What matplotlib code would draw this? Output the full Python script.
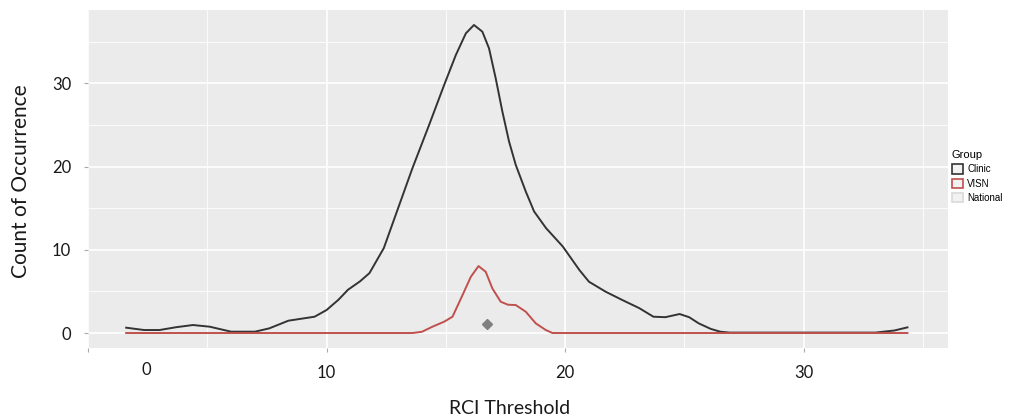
import matplotlib
matplotlib.use('Agg')
import matplotlib.pyplot as plt
from matplotlib.patches import Patch

plt.rcParams['font.family'] = ['Lato', 'DejaVu Sans']

# Clinic curve
clinic_x = [1.6, 2.35, 3.0, 3.7, 4.4, 5.1, 6.0, 7.0, 7.6, 8.4, 9.5, 10.0, 10.5, 10.9, 11.4,
            11.8, 12.4, 12.9, 13.6, 14.3, 14.93, 15.42, 15.84, 16.18, 16.53, 16.81,
            17.09, 17.37, 17.65, 17.93, 18.35, 18.7, 19.2, 19.9, 20.6, 21.0, 21.7,
            22.4, 23.1, 23.7, 24.2, 24.8, 25.2, 25.6, 26.1, 26.5, 26.9, 33.0,
            33.8, 34.35]
clinic_y = [0.64, 0.36, 0.36, 0.7, 0.96, 0.76, 0.16, 0.16, 0.56, 1.48, 1.96, 2.76, 4.0, 5.2, 6.2,
            7.2, 10.2, 14.2, 19.8, 25.0, 29.8, 33.4, 36.0, 37.0, 36.2, 34.2,
            30.6, 26.6, 23.0, 20.2, 17.0, 14.6, 12.6, 10.4, 7.56, 6.16, 4.96,
            3.96, 3.0, 1.96, 1.9, 2.28, 1.9, 1.16, 0.5, 0.16, 0.05, 0.05,
            0.3, 0.68]

# VISN curve
visn_x = [1.6, 13.6, 14.0, 14.44, 14.93, 15.28, 15.7, 16.05, 16.37, 16.67, 16.95,
          17.3, 17.6, 17.93, 18.35, 18.77, 19.19, 19.47, 34.35]
visn_y = [0.0, 0.0, 0.15, 0.76, 1.36, 1.96, 4.56, 6.76, 8.04, 7.36, 5.36,
          3.76, 3.4, 3.36, 2.56, 1.16, 0.36, 0.0, 0.0]

# National marker
nat_x = [16.74]
nat_y = [1.04]

groups = ['Clinic', 'VISN', 'National']
edge_colors = ['#333333', '#c0504d', '#d9d9d9']

fig = plt.figure(figsize=(10.21, 4.17), dpi=100)
ax = fig.add_axes([88 / 1021, 1 - 348 / 417, 860 / 1021, 338 / 417])
ax.set_facecolor('#ebebeb')
for s in ax.spines.values():
    s.set_visible(False)

ax.set_xlim(0, 36.05)
ax.set_ylim(-1.8, 38.8)
ax.set_xticks([0, 10, 20, 30])
ax.set_xticks([5, 15, 25, 35], minor=True)
ax.set_yticks([0, 10, 20, 30])
ax.set_yticks([5, 15, 25, 35], minor=True)
ax.grid(True, which='major', color='white', lw=1.2)
ax.grid(True, which='minor', color='white', lw=0.6)
ax.set_axisbelow(True)
ax.tick_params(which='major', length=3, color='#aaaaaa', labelsize=12, labelcolor='#1a1a1a')
ax.tick_params(axis='x', pad=9)
ax.tick_params(axis='y', pad=9)
ax.tick_params(which='minor', length=0)
ax.set_xticklabels(['', '10', '20', '30'])
ax.text(2.43, -0.065, '0', transform=ax.get_xaxis_transform(), ha='center', va='center',
        fontsize=12, color='#1a1a1a')

ax.plot(clinic_x, clinic_y, color='#333333', lw=1.4, solid_joinstyle='round')
ax.plot(visn_x, visn_y, color='#c0504d', lw=1.4, solid_joinstyle='round')
ax.plot(nat_x, nat_y, marker='D', color='#808080', ms=5, ls='none')

fig.text(21 / 1021, 1 - 181 / 417, 'Count of Occurrence', rotation=90, ha='center', va='center',
         fontsize=15, color='#1a1a1a')
fig.text(510 / 1021, 1 - 408 / 417, 'RCI Threshold', ha='center', va='center',
         fontsize=14, color='#1a1a1a')

handles = [Patch(facecolor='#f2f2f2', edgecolor=c, lw=1.2) for c in edge_colors]
leg = fig.legend(handles, groups, title='Group', loc='upper left',
                 bbox_to_anchor=(945 / 1021, 1 - 143 / 417), frameon=False,
                 prop={'family': 'Liberation Sans', 'size': 7},
                 handlelength=1.1, handleheight=1.1,
                 handletextpad=0.5, labelspacing=0.45, borderpad=0.2)
leg.get_title().set_fontfamily('Liberation Sans')
leg.get_title().set_fontsize(8)
leg._legend_box.align = 'left'

fig.savefig('out.png', dpi=100)
